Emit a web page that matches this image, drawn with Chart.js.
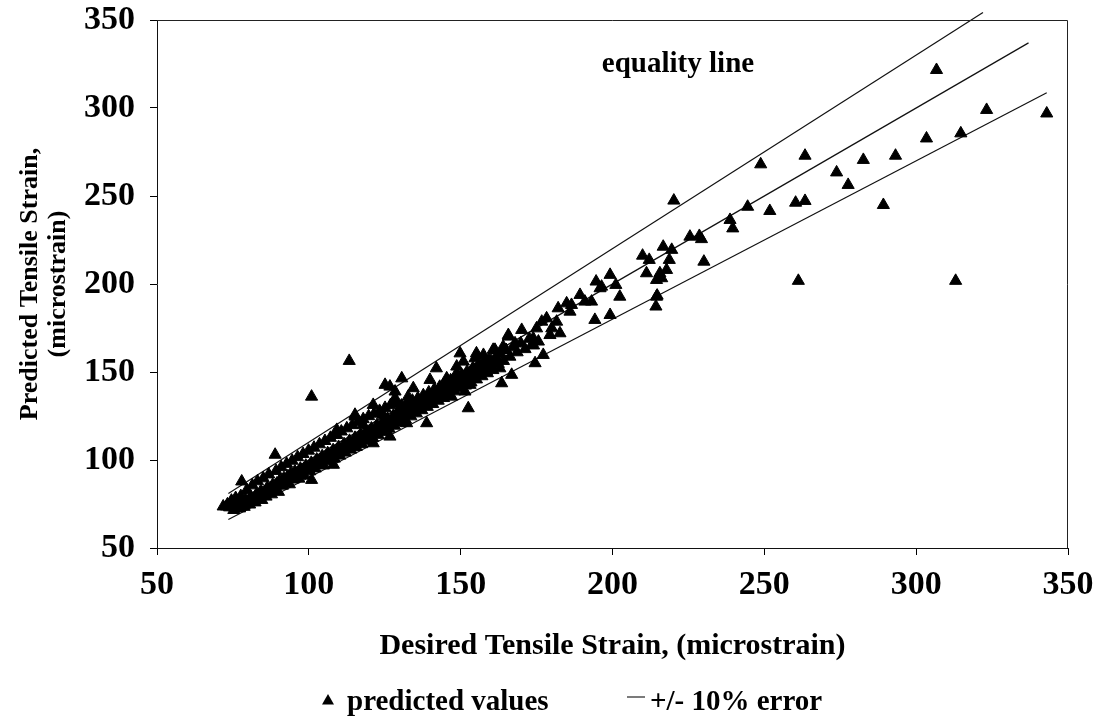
<!DOCTYPE html>
<html>
<head>
<meta charset="utf-8">
<title>Desired vs Predicted Tensile Strain</title>
<script src="https://cdn.jsdelivr.net/npm/chart.js@4.4.1/dist/chart.umd.min.js"></script>
<style>
    html, body { margin: 0; padding: 0; background: #fff; }
    #strainChart { display: block; }
</style>
</head>
<body>
<canvas id="strainChart" width="1096" height="717"></canvas>
<script>
// desired strain (x) vs predicted strain (y), microstrain
const strainPairs = [
    // dense band, low strains
    [73.2,74.8],[73.9,73.1],[74.5,76.9],[74.8,75.2],[75.3,71.6],[75.9,78.4],[76.4,74.1],[76.8,76.3],[77.2,72.5],[77.6,79.5],
    [78.3,75.8],[78.7,73.4],[79.1,77.9],[79.6,83.0],[80.2,76.4],[80.5,74.7],[80.9,79.1],[81.4,85.6],[81.8,77.6],[82.3,75.9],
    [82.7,80.4],[83.1,87.9],[83.6,78.8],[84.2,82.3],[84.5,77.3],[85.0,89.6],[85.4,81.0],[85.9,79.2],[86.3,84.2],[86.8,91.8],
    [87.2,82.6],[87.7,80.5],[88.1,85.9],[88.6,83.4],[89.2,93.8],[89.5,86.7],[90.0,81.9],[90.4,88.3],
    [90.9,95.9],[91.3,85.4],[91.8,89.7],[92.2,87.1],[92.7,97.8],[93.1,90.8],[93.6,86.2],[94.0,92.1],[94.5,99.6],[94.9,88.9],
    [95.4,93.5],[95.8,91.0],[96.3,101.6],[96.7,89.4],[97.2,95.1],[97.6,92.6],[98.1,103.4],[98.5,91.2],[99.0,96.8],[99.4,94.3],
    [99.9,105.3],[100.3,93.6],[100.8,98.4],[101.2,96.0],[101.7,107.0],[102.1,95.2],[102.6,100.3],[103.0,97.9],[103.5,108.9],[103.9,99.1],
    [104.4,102.2],[104.8,96.9],[105.3,110.8],[105.7,101.0],[106.2,103.9],[106.6,99.3],[107.1,112.6],[107.5,102.7],[108.0,105.6],[108.4,100.8],
    [108.9,114.3],[109.3,104.1],[109.8,107.4],
    [110.2,102.5],[110.7,116.2],[111.1,106.3],[111.6,109.0],[112.0,104.2],[112.5,118.0],[112.9,107.8],[113.4,110.9],[113.8,105.9],[114.3,119.8],
    [114.7,109.5],[115.2,112.6],[115.6,107.4],[116.1,121.4],[116.5,111.3],[117.0,114.5],[117.4,109.0],[117.9,123.2],[118.3,113.1],[118.8,116.2],
    [119.2,110.9],[119.7,124.9],[120.1,114.8],[120.6,117.9],[121.0,112.6],[121.5,126.3],[121.9,116.7],[122.4,119.8],[122.8,114.3],[123.3,127.9],
    [123.7,118.2],[124.2,121.5],[124.6,116.0],[125.1,129.6],[125.5,120.1],[126.0,123.3],[126.4,117.8],[126.9,131.2],[127.3,121.7],[127.8,125.1],
    [128.2,119.5],[128.7,132.4],[129.1,123.6],[129.6,126.8],
    [130.0,121.2],[130.5,130.9],[130.9,125.2],[131.4,128.4],[131.8,123.0],[132.3,132.5],[132.7,127.1],[133.2,130.0],[133.6,124.8],[134.1,133.7],
    [134.5,128.6],[135.0,131.9],[135.4,126.5],[135.9,135.1],[136.3,130.4],[136.8,133.2],[137.2,128.3],[137.7,136.8],[138.1,132.1],[138.6,135.0],
    [139.0,130.2],[139.5,138.4],[139.9,133.9],[140.4,136.7],[140.8,131.8],[141.3,140.1],[141.7,135.6],[142.2,138.5],[142.6,133.7],[143.1,141.6],
    [143.5,137.3],[144.0,140.2],[144.4,135.2],[144.9,143.0],[145.3,139.1],[145.8,141.8],[146.2,137.5],[146.7,145.3],[147.1,140.6],[147.6,143.5],
    [148.0,139.0],[148.5,146.9],[148.9,142.4],[149.4,145.1],[149.8,140.7],[150.3,148.4],[150.7,144.2],[151.2,146.8],[151.6,142.3],[152.1,150.2],
    [152.5,146.0],[153.0,148.6],[153.4,144.1],[153.9,151.9],[154.3,147.7],[154.8,150.3],[155.2,145.8],[155.7,153.6],[156.1,149.5],[156.6,152.2],
    [157.0,147.6],[157.5,155.3],[157.9,151.2],[158.4,153.9],[158.8,149.3],[159.3,157.0],[159.7,152.9],[160.2,155.8],[160.6,151.1],[161.5,158.2],
    [162.4,154.6],[163.2,160.1],[164.1,156.3],[165.0,162.5],[166.2,158.7],[167.4,164.0],[168.6,161.2],[169.8,166.3],[171.2,163.0],[172.6,168.9],
    [174.0,165.1],
    // scattered points around the band
    [71.8,73.6],[72.9,73.6],[74.6,76.4],[77.9,87.8],[88.9,103.0],[100.9,88.7],[108.1,97.3],[109.2,114.3],[100.9,136.0],[113.3,156.3],
    [115.2,125.7],[115.2,124.7],[109.2,117.1],[117.9,120.0],[121.2,109.5],[121.2,131.3],[123.4,116.2],[124.5,125.7],[126.7,113.3],[126.7,141.7],
    [125.1,142.7],[128.4,138.9],[128.4,135.1],[130.0,129.4],[130.6,146.4],[132.2,120.9],[132.7,136.0],[134.4,140.8],[136.0,133.2],[138.8,120.9],
    [139.9,145.5],[142.0,152.1],[144.3,142.7],[145.4,146.4],[147.0,136.0],[148.7,149.3],[148.7,153.1],[149.8,160.6],[149.8,146.4],[150.9,155.9],
    [151.4,138.9],[152.5,129.4],[153.1,142.7],[154.1,152.1],[154.7,157.8],[155.2,160.6],[156.4,154.0],[157.5,159.7],[158.5,150.3],[160.7,162.6],
    [161.3,162.6],[161.8,157.8],[162.9,152.1],[163.5,143.6],[164.0,164.4],[165.7,170.1],[165.7,171.0],[166.8,148.4],[167.9,166.3],[170.1,173.9],
    [173.4,165.4],[173.9,169.1],[174.5,155.0],[175.0,174.8],[175.6,167.3],[176.7,178.6],[177.2,159.7],[178.3,180.5],[179.4,171.0],[180.0,174.8],
    [181.6,178.6],[182.1,186.2],[182.7,172.0],[184.9,189.0],[186.0,184.3],[186.5,188.1],[189.3,193.8],[190.9,190.0],[193.1,190.0],[194.2,179.6],
    [194.6,201.4],[195.9,197.6],[196.4,198.5],[199.2,205.2],[199.2,182.4],[201.1,199.5],[202.4,192.8],[209.9,216.1],[211.2,206.1],[212.1,213.7],
    [214.3,187.2],[214.5,192.8],[214.5,202.3],[214.7,193.4],[215.6,206.1],[216.2,203.3],[216.7,221.2],[217.8,208.0],[218.7,213.7],[219.5,219.4],
    [220.2,247.4],[225.5,226.9],[228.6,227.3],[229.3,225.5],[230.1,212.7],[238.7,236.4],[239.6,231.6],[244.5,243.9],[248.8,268.0],[251.8,241.5],
    [260.3,246.2],[261.2,201.8],[263.4,247.2],[263.4,272.9],[273.8,263.4],[277.6,256.3],[282.6,270.5],[289.2,244.9],[293.2,272.9],[303.4,282.7],
    [306.7,321.6],[313.0,201.8],[314.7,285.6],[323.2,298.9],[343.0,296.9]
];

// reference lines (end points)
const equalityLine = [[73.5, 73.5], [337, 337]];
const upperLine = [[73.5, 80.9], [322, 354.2]];
const lowerLine = [[73.5, 66.2], [343, 308.7]];

const axisTicks = [50, 100, 150, 200, 250, 300, 350];

const seriesLabel = 'predicted values';
const boundsLabel = '+/- 10% error';
const equalityLabel = 'equality line';

const serif = '"Liberation Serif", "Times New Roman", serif';
const tickFont = { family: serif, size: 34, weight: 'bold', lineHeight: 1 };
const xTitleFont = { family: serif, size: 30, weight: 'bold', lineHeight: 1 };
const yTitleFont = { family: serif, size: 26, weight: 'bold', lineHeight: 1.08 };

const toPoints = (pairs) => pairs.map(([x, y]) => ({ x, y }));

const lineSet = (pairs, clip) => ({
    type: 'line',
    data: toPoints(pairs),
    borderColor: '#111',
    borderWidth: 1.2,
    pointRadius: 0,
    fill: false,
    clip: clip
});

// frame, the equality line caption and the key under the axis title
const decorPlugin = {
    id: 'decor',
    afterDraw(chart) {
        const { ctx, chartArea: a, scales } = chart;
        ctx.save();
        ctx.strokeStyle = '#222';
        ctx.lineWidth = 1;
        ctx.beginPath();
        ctx.moveTo(a.left, a.top + 0.5);
        ctx.lineTo(a.right - 0.5, a.top + 0.5);
        ctx.lineTo(a.right - 0.5, a.bottom);
        ctx.stroke();

        ctx.fillStyle = '#000';
        ctx.font = `bold 29px ${serif}`;
        ctx.textBaseline = 'alphabetic';
        ctx.textAlign = 'left';
        ctx.fillText(equalityLabel, scales.x.getPixelForValue(196.5), scales.y.getPixelForValue(320.5));

        // key
        const ky = 710;
        ctx.beginPath();
        ctx.moveTo(328, ky - 16);
        ctx.lineTo(334, ky - 5.5);
        ctx.lineTo(322, ky - 5.5);
        ctx.closePath();
        ctx.fill();
        ctx.fillText(seriesLabel, 347, ky);

        ctx.beginPath();
        ctx.lineWidth = 1.2;
        ctx.moveTo(627, ky - 13);
        ctx.lineTo(645, ky - 13);
        ctx.stroke();
        ctx.fillText(boundsLabel, 650, ky);
        ctx.restore();
    }
};

const axisOptions = (titleText, titleFont, fitFn, titlePadding, tickPadding) => ({
    type: 'linear',
    min: 50,
    max: 350,
    afterBuildTicks: (scale) => {
        scale.ticks = axisTicks.map(v => ({ value: v }));
    },
    afterFit: fitFn,
    grid: {
        drawOnChartArea: false,
        drawTicks: true,
        tickLength: 7,
        color: '#000'
    },
    border: { display: true, color: '#111', width: 1 },
    ticks: {
        color: '#000',
        font: tickFont,
        padding: tickPadding,
        maxRotation: 0,
        autoSkip: false
    },
    title: {
        display: true,
        text: titleText,
        color: '#000',
        font: titleFont,
        padding: titlePadding
    }
});

const chart = new Chart(document.getElementById('strainChart'), {
    type: 'scatter',
    data: {
        datasets: [
            {
                label: seriesLabel,
                data: toPoints(strainPairs),
                pointStyle: 'triangle',
                pointRadius: 7,
                borderWidth: 1,
                backgroundColor: '#000',
                borderColor: '#000'
            },
            lineSet(equalityLine, true),
            lineSet(upperLine, false),
            lineSet(lowerLine, true)
        ]
    },
    options: {
        responsive: false,
        animation: false,
        layout: { padding: { top: 20, right: 28, bottom: 52, left: 0 } },
        plugins: {
            legend: { display: false },
            tooltip: { enabled: false }
        },
        scales: {
            x: axisOptions('Desired Tensile Strain, (microstrain)', xTitleFont,
                (scale) => {
                    scale.height = 117;
                    scale.paddingLeft = 0;
                    scale.paddingRight = 0;
                },
                { top: 0, bottom: 4 }, 13),
            y: axisOptions(['Predicted Tensile Strain,', '(microstrain)'], yTitleFont,
                (scale) => {
                    scale.width = 157;
                    scale.paddingTop = 0;
                    scale.paddingBottom = 0;
                },
                { top: 16, bottom: 0 }, 15)
        }
    },
    plugins: [decorPlugin]
});
</script>
</body>
</html>
